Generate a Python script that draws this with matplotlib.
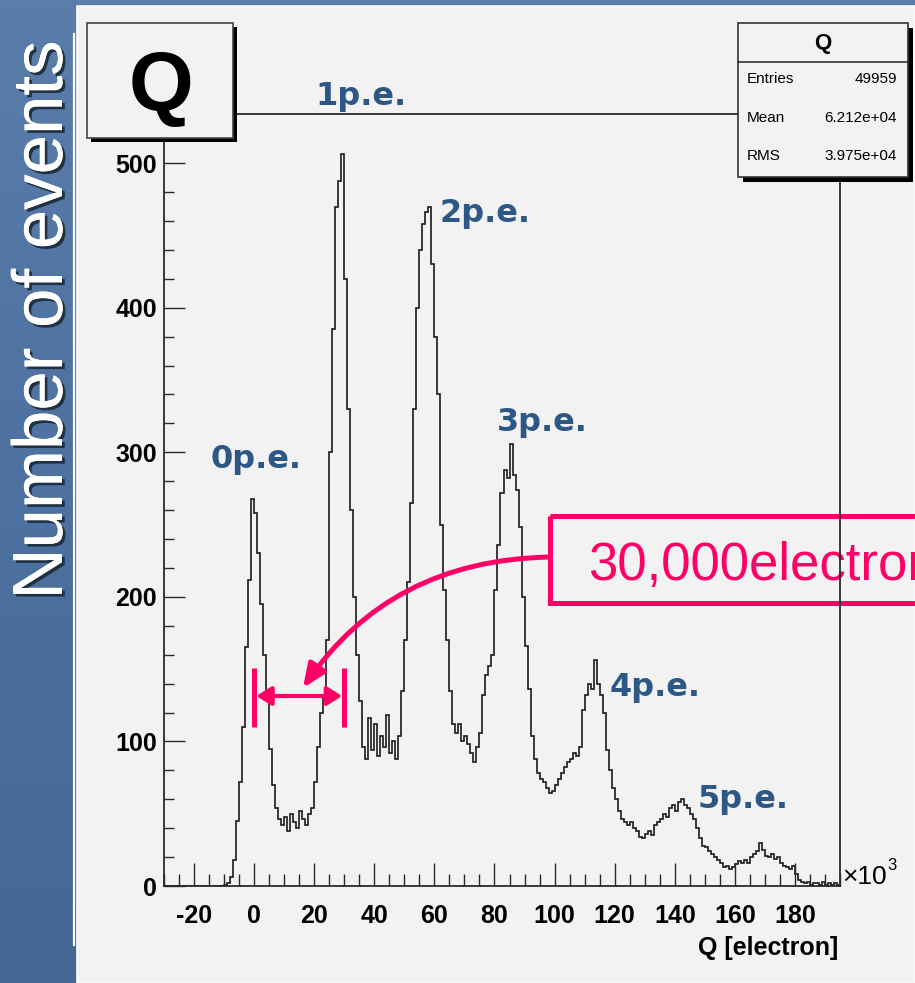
import matplotlib
matplotlib.use("Agg")
import matplotlib.pyplot as plt
import matplotlib.patheffects as pe
import numpy as np
from matplotlib.patches import Rectangle, FancyArrowPatch
from matplotlib.path import Path
from matplotlib.colors import LinearSegmentedColormap
from matplotlib.transforms import blended_transform_factory
from matplotlib.ticker import MultipleLocator, FixedLocator

plt.rcParams['font.family'] = ['Liberation Sans', 'DejaVu Sans']
plt.rcParams['axes.unicode_minus'] = False

# ---------------------------------------------------------------------------
# Charge spectrum, Q in units of 10^3 electrons, 1k-wide bins from -30 to 195
# ---------------------------------------------------------------------------
q_low, q_high = -30, 195
counts = (
    [0] * 19
    + [0, 1, 2, 6, 18, 45, 72, 110, 165, 212, 268]                 # -11 .. -1
    + [258, 230, 195, 160, 130, 95, 70, 54, 46, 42]                # 0 .. 9
    + [48, 38, 50, 44, 40, 52, 46, 42, 50, 54]                     # 10 .. 19
    + [72, 96, 120, 132, 170, 300, 385, 470, 488, 506]             # 20 .. 29
    + [420, 330, 260, 200, 160, 128, 96, 88, 116, 94]              # 30 .. 39
    + [112, 90, 104, 96, 118, 92, 100, 88, 104, 135]               # 40 .. 49
    + [170, 210, 265, 330, 400, 440, 458, 466, 470, 430]           # 50 .. 59
    + [380, 340, 250, 205, 170, 135, 112, 106, 112, 100]           # 60 .. 69
    + [104, 98, 92, 86, 96, 106, 132, 146, 152, 160]               # 70 .. 79
    + [205, 236, 272, 288, 282, 306, 284, 274, 248, 200]           # 80 .. 89
    + [166, 136, 104, 88, 78, 74, 72, 68, 64, 66]                  # 90 .. 99
    + [70, 74, 78, 82, 86, 88, 92, 90, 96, 122]                    # 100 .. 109
    + [132, 140, 136, 156, 140, 132, 120, 94, 80, 68]              # 110 .. 119
    + [60, 52, 46, 44, 42, 44, 40, 38, 34, 33]                     # 120 .. 129
    + [36, 38, 35, 42, 44, 46, 50, 48, 54, 56]                     # 130 .. 139
    + [52, 58, 60, 56, 54, 50, 46, 40, 33, 28]                     # 140 .. 149
    + [27, 24, 22, 20, 18, 16, 13, 14, 12, 13]                     # 150 .. 159
    + [15, 17, 16, 18, 16, 20, 22, 24, 30, 25]                     # 160 .. 169
    + [21, 20, 22, 19, 20, 16, 14, 13, 12, 14]                     # 170 .. 179
    + [8, 4, 3, 2, 3, 1, 2, 2, 1, 3]                               # 180 .. 189
    + [1, 2, 1, 2, 1]                                              # 190 .. 194
)
edges = np.arange(q_low, q_high + 1)

y_top = 534
x_major = list(range(-20, 181, 20))
y_major = list(range(0, 501, 100))

hist_name = "Q"
x_title = "Q [electron]"
side_title = "Number of events"
stats_rows = [("Entries", "49959"), ("Mean", "6.212e+04"), ("RMS", "3.975e+04")]

peak_names = ["0p.e.", "1p.e.", "2p.e.", "3p.e.", "4p.e.", "5p.e."]
spacing_from, spacing_to = 0, 30          # one photo-electron step, in 10^3 e
spacing_text = "30,000electrons"

# ---------------------------------------------------------------------------
W, H = 915, 983
fig = plt.figure(figsize=(W / 100, H / 100), dpi=100)

# slide background and the light panel, drawn in pixel coordinates
bg = fig.add_axes([0, 0, 1, 1], zorder=0)
bg.set_xlim(0, W)
bg.set_ylim(H, 0)
bg.axis('off')
blue = LinearSegmentedColormap.from_list("slide", ["#5a7daa", "#4d71a0", "#456793"])
bg.imshow(np.linspace(0, 1, 256).reshape(-1, 1), cmap=blue, aspect='auto',
          extent=[0, W, H, 0], origin='upper', zorder=0)
bg.add_patch(Rectangle((77, 6), W - 77, H - 6, facecolor="#f2f2f2",
                       edgecolor="#fbfbfb", lw=1.2, zorder=1))
bg.plot([74, 74], [34, 945], color="white", lw=1.6, zorder=1)

# vertical slide caption with a drop shadow
bg.text(62, 320, side_title, rotation=90, rotation_mode='anchor',
        ha='center', va='baseline', fontsize=51, color="white", zorder=2,
        path_effects=[pe.withSimplePatchShadow(offset=(2, -2),
                                               shadow_rgbFace="#1c2a3a",
                                               alpha=0.9),
                      pe.Normal()])

# ---------------------------------------------------------------------------
# histogram frame
ax = fig.add_axes([164 / W, (H - 886) / H, (840 - 164) / W, (886 - 114) / H], zorder=1)
ax.patch.set_visible(False)
ax.stairs(counts, edges, color="#1a1a1a", lw=1.2)
ax.set_xlim(q_low, q_high)
ax.set_ylim(0, y_top)

for s in ax.spines.values():
    s.set_color("#2a2a2a")
    s.set_linewidth(1.3)

ax.xaxis.set_major_locator(FixedLocator(x_major))
ax.xaxis.set_minor_locator(MultipleLocator(5))
ax.yaxis.set_major_locator(FixedLocator(y_major))
ax.yaxis.set_minor_locator(MultipleLocator(20))
ax.tick_params(axis='x', which='major', direction='in', length=16.5, width=1.0,
               pad=13, labelsize=18, colors="#2a2a2a", labelcolor="black")
ax.tick_params(axis='x', which='minor', direction='in', length=8.5, width=1.0,
               colors="#2a2a2a")
ax.tick_params(axis='y', which='major', direction='in', length=15, width=1.0,
               pad=5, labelsize=18, colors="#2a2a2a", labelcolor="black")
ax.tick_params(axis='y', which='minor', direction='in', length=7.2, width=1.0,
               colors="#2a2a2a")
for lab in ax.get_xticklabels() + ax.get_yticklabels():
    lab.set_fontweight('bold')

px = bg.transData
ax.text(838, 948, x_title, transform=px, ha='right', va='center',
        fontsize=18, fontweight='bold', clip_on=False)
ax.text(842, 877, "×10", transform=px, ha='left', va='center',
        fontsize=19, clip_on=False)
ax.text(887, 865, "3", transform=px, ha='left', va='center',
        fontsize=12, clip_on=False)

# title box
ax.add_patch(Rectangle((91, 27), 146, 115, transform=px, facecolor="black",
                       edgecolor="none", clip_on=False, zorder=4))
ax.add_patch(Rectangle((87, 23), 146, 115, transform=px, facecolor="#f2f2f2",
                       edgecolor="#444444", lw=1.2, clip_on=False, zorder=4.1))
ax.text(161, 111, hist_name, transform=px, ha='center', va='baseline',
        fontsize=60, fontweight='bold', clip_on=False, zorder=4.2)

# statistics box
ax.add_patch(Rectangle((743, 28), 170, 154, transform=px, facecolor="black",
                       edgecolor="none", clip_on=False, zorder=4))
ax.add_patch(Rectangle((738, 23), 170, 154, transform=px, facecolor="#f2f2f2",
                       edgecolor="#333333", lw=1.2, clip_on=False, zorder=4.1))
ax.plot([738, 908], [62, 62], transform=px, color="#333333", lw=1.2,
        clip_on=False, zorder=4.2)
ax.text(823, 43, hist_name, transform=px, ha='center', va='center',
        fontsize=16, fontweight='bold', clip_on=False, zorder=4.2)
for (name, val), yy in zip(stats_rows, [79, 118, 156]):
    ax.text(747, yy, name, transform=px, ha='left', va='center',
            fontsize=11, clip_on=False, zorder=4.2)
    ax.text(897, yy, val, transform=px, ha='right', va='center',
            fontsize=11, clip_on=False, zorder=4.2)

# photo-electron peak labels
peak_color = "#2d5886"
peak_spots = [(210, 468), (315, 105), (440, 222), (497, 431), (610, 696), (698, 808)]
for name, (lx, ly) in zip(peak_names, peak_spots):
    ax.text(lx, ly, name, transform=px, ha='left', va='baseline',
            fontsize=23, fontweight='bold', color=peak_color,
            family='DejaVu Sans', clip_on=False, zorder=3)

# spacing annotation between the 0 p.e. and 1 p.e. peaks
pink = "#ff0066"
mix = blended_transform_factory(ax.transData, px)
for xq in (spacing_from, spacing_to):
    ax.plot([xq, xq], [668, 727], transform=mix, color=pink, lw=3.6,
            solid_capstyle='butt', clip_on=False, zorder=2.2)
ax.add_patch(FancyArrowPatch((spacing_from, 696), (spacing_to, 696), transform=mix,
                             arrowstyle='<|-|>,head_length=0.45,head_width=0.28',
                             mutation_scale=20, color=pink, lw=3.0,
                             shrinkA=1.5, shrinkB=1.5, clip_on=False, zorder=2.2))

ax.add_patch(Rectangle((550, 515.5), 500, 87, transform=px, facecolor="none",
                       edgecolor=pink, lw=3.6, clip_on=False, zorder=2.2))
ax.text(588, 580, spacing_text, transform=px, ha='left', va='baseline',
        fontsize=38, color=pink, clip_on=False, zorder=2.2)
curve = Path([(550, 557), (390, 560), (303, 688)],
             [Path.MOVETO, Path.CURVE3, Path.CURVE3])
ax.add_patch(FancyArrowPatch(path=curve, transform=px,
                             arrowstyle='-|>,head_length=0.7,head_width=0.3',
                             mutation_scale=20, color=pink, lw=3.6,
                             shrinkA=0, shrinkB=0, clip_on=False, zorder=2.2))

fig.savefig("out.png", dpi=100)
